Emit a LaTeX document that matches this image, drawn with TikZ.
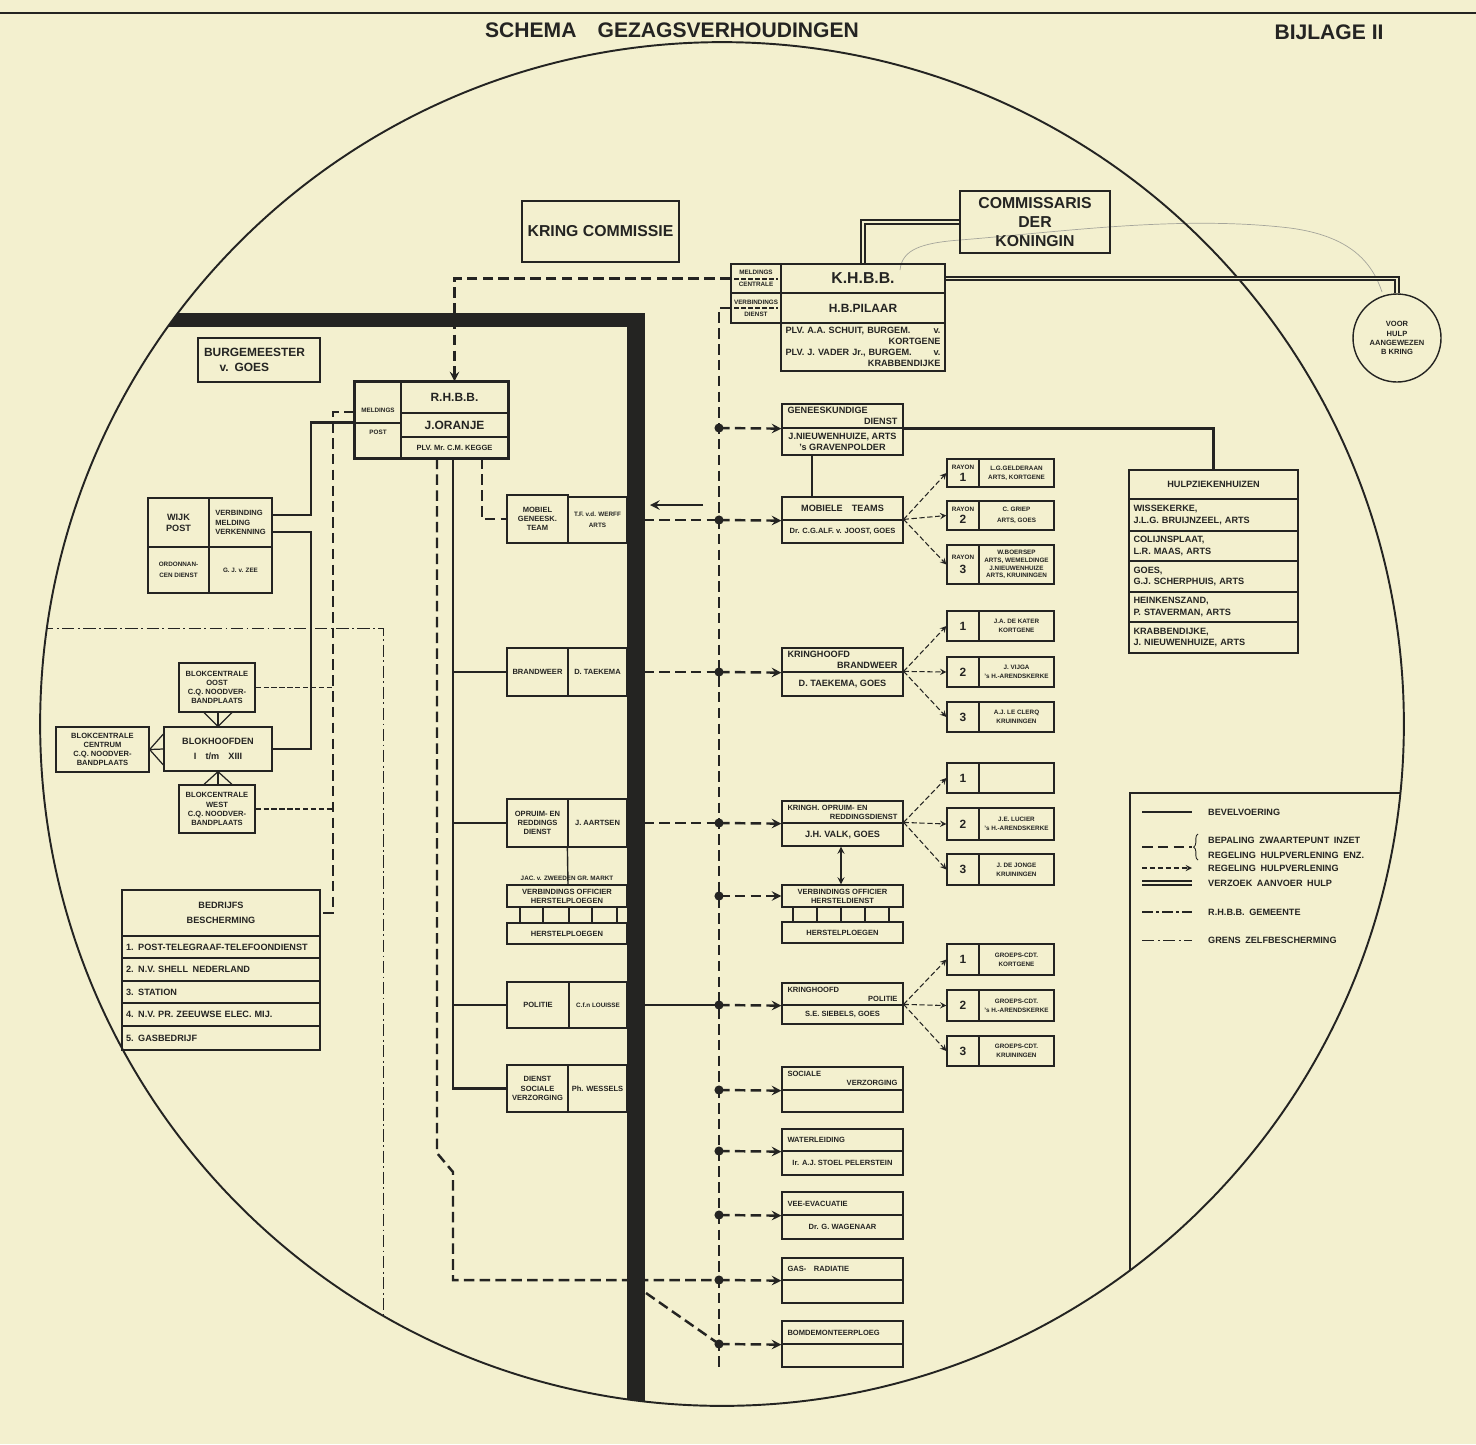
\documentclass[tikz,border=0pt]{standalone}
\usepackage{fontspec}
\setmainfont{Liberation Sans}
\usetikzlibrary{decorations.pathreplacing}

\definecolor{paper}{RGB}{243,240,207}
\definecolor{ink}{RGB}{36,36,34}
\definecolor{pencil}{RGB}{165,165,155}

\newcommand{\pushright}{\hskip 0pt plus 1fill\relax}
\newcommand{\fntxs}{\fontsize{3.6}{4.3}\selectfont\bfseries}
\newcommand{\fnts}{\fontsize{4.3}{5.2}\selectfont\bfseries}
\newcommand{\fntn}{\fontsize{5.2}{6.3}\selectfont\bfseries}
\newcommand{\fntm}{\fontsize{6.8}{8.2}\selectfont\bfseries}
\newcommand{\fntl}{\fontsize{9}{11}\selectfont\bfseries}
\newcommand{\fnttitle}{\fontsize{12}{14}\selectfont\bfseries}

\tikzset{
  cell/.style 2 args={draw=ink, line width=0.7pt, inner sep=0pt,
    minimum width=#1*0.02cm, minimum height=#2*0.02cm, align=center, font=\fnts},
  cellB/.style 2 args={cell={#1}{#2}, line width=1.1pt},
  cmd/.style={draw=ink, line width=1.4pt},
  zw/.style={draw=ink, line width=1.4pt, dash pattern=on 6pt off 3pt},
  hv/.style={draw=ink, line width=0.6pt, dash pattern=on 3pt off 1.5pt},
  aanvoer/.style={draw=ink, line width=0.9pt, double=paper, double distance=1.1pt},
  gem/.style={draw=ink, line width=1.4pt, dash pattern=on 6pt off 2pt on 1.4pt off 2pt},
  grens/.style={draw=ink, line width=0.5pt, dash pattern=on 7pt off 2pt on 1pt off 2pt},
  post/.style={draw=ink, line width=1.6pt},
  legtxt/.style={anchor=west, font=\fntn}
}

\begin{document}
\begin{tikzpicture}[x=0.02cm, y=-0.02cm, >=stealth, every node/.append style={text=ink}]

% paper
\fill[paper] (0,0) rectangle (1476,1444);
\useasboundingbox (0,0) rectangle (1476,1444);
\draw[ink, line width=1.2pt] (0,13) -- (1476,13);

% title
\node[font=\fnttitle] (title) at (672,30) {SCHEMA\quad GEZAGSVERHOUDINGEN};
\node[font=\fnttitle] (bijlage) at (1329,32) {BIJLAGE II};

% pencil stroke
\draw[pencil, line width=0.4pt] (900,270) .. controls (902,250) and (920,243) .. (960,240) .. controls (1060,232) and (1180,215) .. (1290,228) .. controls (1350,236) and (1372,262) .. (1382,292);

% the big circle
\draw[ink, line width=1.1pt] (722,724) circle [radius=13.64cm];

% grens zelfbescherming and legend frame
\begin{scope}
  \clip (722,724) circle [radius=13.64cm];
  \draw[grens] (20,628) -- (383,628) -- (383,1440);
  \draw[ink, line width=0.8pt] (1130,1440) -- (1130,793) -- (1460,793);
\end{scope}

% kring commissie and commissaris
\node[cell={157}{61}, font=\fntl] (kring) at (600.5,231.5) {KRING COMMISSIE};
\node[cell={150}{62}, font=\fntl, line width=1pt] (cdk) at (1035,222) {COMMISSARIS\\DER\\KONINGIN};

% K.H.B.B.
\node[cell={164}{29}, font=\fntl] (khbbA) at (863,278.5) {K.H.B.B.};
\node[cell={164}{30}, font=\fntm] (khbbB) at (863,308) {H.B.PILAAR};
\node[cell={164}{48}, font=\fntn, text width=3.1cm, align=left] (khbbC) at (863,347)
  {PLV. A.A. SCHUIT, BURGEM. \pushright v.\\ \pushright KORTGENE\\PLV. J. VADER Jr., BURGEM. \pushright v.\\ \pushright KRABBENDIJKE};
\node[cell={50}{29}, font=\fntxs] (mcA) at (756,278.5) {MELDINGS\\[2.5pt]CENTRALE};
\node[cell={50}{30}, font=\fntxs] (mcB) at (756,308) {VERBINDINGS\\[2.5pt]DIENST};
\draw[zw, line width=0.9pt, dash pattern=on 3pt off 1pt] (734,279) -- (778,279);
\draw[zw, line width=0.9pt, dash pattern=on 3pt off 1pt] (734,308) -- (778,308);
\node[draw=ink, circle, line width=0.8pt, minimum size=88*0.02cm, inner sep=0pt, align=center, font=\fnts] (hulp) at (1397,338) {VOOR\\HULP\\AANGEWEZEN\\B KRING};

% R.H.B.B.
\node[cell={107}{31}, font=\fntm] (rhA) at (454.5,397.5) {R.H.B.B.};
\node[cell={107}{24}, font=\fntm] (rhB) at (454.5,425) {J.ORANJE};
\node[cell={107}{21}] (rhC) at (454.5,447.5) {PLV. Mr.\ C.M. KEGGE};
\node[cell={46}{41}] (rhLA) at (378,402.5) {};
\node[cell={46}{35}] (rhLB) at (378,440.5) {};
\node[font=\fntxs] (rhm) at (378,410) {MELDINGS};
\node[font=\fntxs] (rhp) at (378,432) {POST};
\draw[ink, line width=1.2pt] (rhLA.north west) rectangle (rhC.south east);
\node[cell={122}{44}, font=\fntm, text width=2.2cm, align=left] (burg) at (259,360) {BURGEMEESTER\\ \hspace{1.3em}v. GOES};

% wijk post
\node[cell={61}{49}, font=\fntn] (wpA) at (178.5,522.5) {WIJK\\POST};
\node[cell={63}{49}, align=left] (wpB) at (240.5,522.5) {VERBINDING\\MELDING\\VERKENNING};
\node[cell={61}{46}, font=\fntxs] (wpC) at (178.5,570) {ORDONNAN-\\[2pt]CEN DIENST};
\node[cell={63}{46}, font=\fntxs] (wpD) at (240.5,570) {G. J. v. ZEE};

% blokken
\node[cell={76}{49}] (oost) at (217,687.5) {BLOKCENTRALE\\OOST\\C.Q. NOODVER-\\BANDPLAATS};
\node[cell={108}{44}, font=\fntn] (bh) at (218,749) {BLOKHOOFDEN\\[2pt]I\quad t/m\quad XIII};
\node[cell={93}{45}] (centrum) at (102.5,749.5) {BLOKCENTRALE\\CENTRUM\\C.Q. NOODVER-\\BANDPLAATS};
\node[cell={76}{48}] (west) at (217,809) {BLOKCENTRALE\\WEST\\C.Q. NOODVER-\\BANDPLAATS};

% bedrijfsbescherming
\node[cell={198}{46}, font=\fntn] (bbA) at (221,913) {BEDRIJFS\\[2pt]BESCHERMING};
\node[cell={198}{22}, font=\fntn, text width=3.8cm, align=left] (bb1) at (221,947) {1. POST-TELEGRAAF-TELEFOONDIENST};
\node[cell={198}{23}, font=\fntn, text width=3.8cm, align=left] (bb2) at (221,969.5) {2. N.V. SHELL\enspace NEDERLAND};
\node[cell={198}{22}, font=\fntn, text width=3.8cm, align=left] (bb3) at (221,992) {3. STATION};
\node[cell={198}{23}, font=\fntn, text width=3.8cm, align=left] (bb4) at (221,1014.5) {4. N.V. PR. ZEEUWSE ELEC. MIJ.};
\node[cell={198}{24}, font=\fntn, text width=3.8cm, align=left] (bb5) at (221,1038) {5. GASBEDRIJF};

% gemeentelijke diensten
\node[cellB={61}{48}] (mgA) at (537.5,519) {MOBIEL\\GENEESK.\\TEAM};
\node[cell={59}{46}, font=\fntxs] (mgB) at (597.5,520) {T.F. v.d. WERFF\\[2pt]ARTS};
\node[cellB={61}{48}] (bwA) at (537.5,672) {BRANDWEER};
\node[cell={59}{48}] (bwB) at (597.5,672) {D. TAEKEMA};
\node[cellB={61}{48}] (orA) at (537.5,823) {OPRUIM- EN\\REDDINGS\\DIENST};
\node[cell={59}{48}] (orB) at (597.5,823) {J. AARTSEN};
\node[font=\fntxs] (jac) at (567,878) {JAC. v. ZWEEDEN GR. MARKT};
\node[cell={120}{22}] (vo) at (567,896) {VERBINDINGS OFFICIER\\HERSTELPLOEGEN};
\node[cell={120}{21}] (hp) at (567,933.5) {HERSTELPLOEGEN};
\node[cellB={62}{46}] (poA) at (538,1005) {POLITIE};
\node[cell={58}{46}, font=\fntxs] (poB) at (598,1005) {C.f.n LOUISSE};
\node[cellB={61}{47}] (dsA) at (537.5,1088.5) {DIENST\\SOCIALE\\VERZORGING};
\node[cell={59}{47}] (dsB) at (597.5,1088.5) {Ph. WESSELS};

% kringdiensten
\node[cell={121}{24}, font=\fntn, text width=2.2cm, align=left] (gdA) at (842.5,416) {GENEESKUNDIGE\\ \pushright DIENST};
\node[cell={121}{27}, font=\fntn] (gdB) at (842.5,441.5) {J.NIEUWENHUIZE, ARTS\\'s GRAVENPOLDER};
\node[cell={121}{23}, font=\fntn] (mtA) at (842.5,508.5) {MOBIELE\quad TEAMS};
\node[cell={121}{23}] (mtB) at (842.5,531.5) {Dr. C.G.ALF. v. JOOST, GOES};
\node[cell={121}{24}, font=\fntn, text width=2.2cm, align=left] (kbA) at (842.5,660) {KRINGHOOFD\\ \pushright BRANDWEER};
\node[cell={121}{24}, font=\fntn] (kbB) at (842.5,684) {D. TAEKEMA, GOES};
\node[cell={121}{22}, text width=2.2cm, align=left] (koA) at (842.5,812) {KRINGH. OPRUIM- EN\\ \pushright REDDINGSDIENST};
\node[cell={121}{23}, font=\fntn] (koB) at (842.5,834.5) {J.H. VALK, GOES};
\node[cell={121}{22}] (vh) at (842.5,896) {VERBINDINGS OFFICIER\\HERSTELDIENST};
\node[cell={121}{21}] (hp2) at (842.5,932.5) {HERSTELPLOEGEN};
\node[cell={121}{22}, text width=2.2cm, align=left] (kpA) at (842.5,994) {KRINGHOOFD\\ \pushright POLITIE};
\node[cell={121}{19}] (kpB) at (842.5,1014.5) {S.E. SIEBELS, GOES};
\node[cell={121}{23}, text width=2.2cm, align=left] (svA) at (842.5,1078.5) {SOCIALE\\ \pushright VERZORGING};
\node[cell={121}{22}] (svB) at (842.5,1101) {};
\node[cell={121}{22}, text width=2.2cm, align=left] (wlA) at (842.5,1140) {WATERLEIDING};
\node[cell={121}{24}] (wlB) at (842.5,1163) {Ir. A.J. STOEL PELERSTEIN};
\node[cell={121}{23}, text width=2.2cm, align=left] (veA) at (842.5,1203.5) {VEE-EVACUATIE};
\node[cell={121}{24}] (veB) at (842.5,1227) {Dr. G. WAGENAAR};
\node[cell={121}{22}, text width=2.2cm, align=left] (gsA) at (842.5,1269) {GAS-\quad RADIATIE};
\node[cell={121}{23}] (gsB) at (842.5,1291.5) {};
\node[cell={121}{23}, text width=2.2cm, align=left] (bmA) at (842.5,1332.5) {BOMDEMONTEERPLOEG};
\node[cell={121}{23}] (bmB) at (842.5,1355.5) {};

% rayons and ploegen
\node[cell={32}{28}, font=\fntxs] (r1L) at (963,473) {RAYON\\[1pt]{\fntm 1}};
\node[cell={75}{28}, font=\fntxs] (r1R) at (1016.5,473) {L.G.GELDERAAN\\[1pt]ARTS, KORTGENE};
\node[cell={32}{29}, font=\fntxs] (r2L) at (963,515.5) {RAYON\\[1pt]{\fntm 2}};
\node[cell={75}{29}, font=\fntxs] (r2R) at (1016.5,515.5) {C. GRIEP\\[2pt]ARTS, GOES};
\node[cell={32}{39}, font=\fntxs] (r3L) at (963,564.5) {RAYON\\[2pt]{\fntm 3}};
\node[cell={75}{39}, font=\fntxs] (r3R) at (1016.5,564.5) {W.BOERSEP\\ARTS, WEMELDINGE\\J.NIEUWENHUIZE\\ARTS, KRUININGEN};
\node[cell={32}{30}, font=\fntm] (b1L) at (963,626) {1};
\node[cell={75}{30}, font=\fntxs] (b1R) at (1016.5,626) {J.A. DE KATER\\[1pt]KORTGENE};
\node[cell={32}{30}, font=\fntm] (b2L) at (963,672) {2};
\node[cell={75}{30}, font=\fntxs] (b2R) at (1016.5,672) {J. VIJGA\\[1pt]'s H.-ARENDSKERKE};
\node[cell={32}{30}, font=\fntm] (b3L) at (963,717) {3};
\node[cell={75}{30}, font=\fntxs] (b3R) at (1016.5,717) {A.J. LE CLERQ\\[1pt]KRUININGEN};
\node[cell={32}{30}, font=\fntm] (o1L) at (963,778) {1};
\node[cell={75}{30}] (o1R) at (1016.5,778) {};
\node[cell={32}{32}, font=\fntm] (o2L) at (963,824) {2};
\node[cell={75}{32}, font=\fntxs] (o2R) at (1016.5,824) {J.E. LUCIER\\[1pt]'s H.-ARENDSKERKE};
\node[cell={32}{31}, font=\fntm] (o3L) at (963,869.5) {3};
\node[cell={75}{31}, font=\fntxs] (o3R) at (1016.5,869.5) {J. DE JONGE\\[1pt]KRUININGEN};
\node[cell={32}{31}, font=\fntm] (p1L) at (963,959.5) {1};
\node[cell={75}{31}, font=\fntxs] (p1R) at (1016.5,959.5) {GROEPS-CDT.\\[1pt]KORTGENE};
\node[cell={32}{31}, font=\fntm] (p2L) at (963,1005.5) {2};
\node[cell={75}{31}, font=\fntxs] (p2R) at (1016.5,1005.5) {GROEPS-CDT.\\[1pt]'s H.-ARENDSKERKE};
\node[cell={32}{30}, font=\fntm] (p3L) at (963,1051) {3};
\node[cell={75}{30}, font=\fntxs] (p3R) at (1016.5,1051) {GROEPS-CDT.\\[1pt]KRUININGEN};

% hulpziekenhuizen
\node[cell={169}{29}, font=\fntn] (hzA) at (1213.5,484.5) {HULPZIEKENHUIZEN};
\node[cell={169}{32}, font=\fntn, text width=3.2cm, align=left] (hz1) at (1213.5,515) {WISSEKERKE,\\J.L.G. BRUIJNZEEL, ARTS};
\node[cell={169}{30}, font=\fntn, text width=3.2cm, align=left] (hz2) at (1213.5,546) {COLIJNSPLAAT,\\L.R. MAAS, ARTS};
\node[cell={169}{31}, font=\fntn, text width=3.2cm, align=left] (hz3) at (1213.5,576.5) {GOES,\\G.J. SCHERPHUIS, ARTS};
\node[cell={169}{30}, font=\fntn, text width=3.2cm, align=left] (hz4) at (1213.5,607) {HEINKENSZAND,\\P. STAVERMAN, ARTS};
\node[cell={169}{31}, font=\fntn, text width=3.2cm, align=left] (hz5) at (1213.5,637.5) {KRABBENDIJKE,\\J. NIEUWENHUIZE, ARTS};

% junctions on the kring line
\coordinate (j-gd) at (719,428);
\coordinate (j-mt) at (719,520);
\coordinate (j-kb) at (719,672);
\coordinate (j-ko) at (719,823);
\coordinate (j-vh) at (719,896);
\coordinate (j-kp) at (719,1005);
\coordinate (j-sv) at (719,1090);
\coordinate (j-wl) at (719,1151);
\coordinate (j-ve) at (719,1215);
\coordinate (j-gs) at (719,1280);
\coordinate (j-bm) at (719,1344);
\coordinate (j-end) at (719,1370);

% verzoek aanvoer hulp
\draw[aanvoer] (cdk.west) -| (khbbA.north -| 863,0);
\draw[aanvoer] (khbbA.east) -| (hulp.north);

% kring to gemeente
\draw[zw, ->] (mcA.west) -| (rhA.north);
\draw[zw] (mcB.west) -| (j-end);
\foreach \j/\b in {gd/gdA.south west, mt/mtA.south west, kb/kbA.south west, ko/koA.south west, vh/vh.west,
  kp/kpA.south west, sv/svA.south west, wl/wlA.south west, ve/veA.south west, gs/gsA.south west, bm/bmA.south west}
  \draw[zw, ->] (j-\j) -- (\b);
\draw[zw] (mgB.east) -- (j-mt);
\draw[zw] (bwB.east) -- (j-kb);
\draw[zw] (orB.east) -- (j-ko);
\draw[cmd] (poB.east) -- (j-kp);
\draw[zw] (646,1293) -- (j-bm);

% bevelvoering r.h.b.b.
\draw[cmd] (453,0 |- rhC.south) |- (dsA.west);
\foreach \b in {bwA, orA, poA}
  \draw[cmd] (453,0 |- \b.west) -- (\b.west);
\draw[zw] (437,0 |- rhC.south) -- (437,1153) -- (453,1172) -- (453,1280) -- (j-gs);
\draw[zw] (482,0 |- rhC.south) |- (mgA.west);
\draw[ink, line width=0.8pt] (orB.south west) -- (vo.north -| 568,0);
\foreach \px in {520,543,569,592,617}
  \draw[post] (vo.south -| \px,0) -- (hp.north -| \px,0);

% wijk post and blokken
\draw[cmd] (wpB.east |- 0,515) -| (311,0 |- rhLB.north) -- (rhLB.north west);
\draw[cmd] (wpB.east |- 0,532) -| (311,0 |- bh.east) -- (bh.east);
\draw[zw] (rhLA.west |- 0,412) -| (333,0 |- bbA.east) -- (bbA.east);
\draw[hv, line width=0.8pt] (oost.east) -- (333,0 |- oost.east);
\draw[hv, line width=0.8pt] (west.east) -- (333,0 |- west.east);
\foreach \fx in {204,218,232} {
  \draw[ink, line width=0.7pt] (bh.north) -- (oost.south -| \fx,0);
  \draw[ink, line width=0.7pt] (bh.south) -- (west.north -| \fx,0);
}
\foreach \fy in {734,749,765}
  \draw[ink, line width=0.7pt] (centrum.east) -- (bh.west |- 0,\fy);

% geneeskundige dienst
\draw[cmd] (812,0 |- gdB.south) -- (812,0 |- mtA.north);
\draw[cmd] (gdA.south east) -| (hzA.north);

% regeling hulpverlening
\foreach \s/\t in {mtB/r1L, mtB/r2L, mtB/r3L, kbB/b1L, kbB/b2L, kbB/b3L,
  koB/o1L, koB/o2L, koB/o3L, kpB/p1L, kpB/p2L, kpB/p3L}
  \draw[hv, ->] (\s.north east) -- (\t.west);
\draw[ink, line width=0.8pt, <->] (koB.south -| 841,0) -- (vh.north -| 841,0);
\foreach \px in {793,817,841,865,889}
  \draw[post] (vh.south -| \px,0) -- (hp2.north -| \px,0);

% arrow to the mobiel team
\coordinate (pijl-a) at (703,505);
\coordinate (pijl-b) at (650,505);
\draw[cmd, ->] (pijl-a) -- (pijl-b);

% thick bar
\begin{scope}
  \clip (722,724) circle [radius=13.64cm];
  \fill[ink] (150,313) rectangle (645,327);
  \fill[ink] (627,313) rectangle (645,1430);
\end{scope}

% junction dots
\foreach \j in {gd,mt,kb,ko,vh,kp,sv,wl,ve,gs,bm}
  \fill[ink] (j-\j) circle (2.6pt);

% legend
\draw[cmd] (1142,812) -- (1192,812);
\node[legtxt] (lg1) at (1202,812) {BEVELVOERING};
\draw[zw] (1142,847) -- (1192,847);
\draw[ink, line width=0.5pt, decorate, decoration={brace, amplitude=2.5pt}] (1198,860) -- (1198,834);
\node[legtxt] (lg2) at (1202,840) {BEPALING\enspace ZWAARTEPUNT\enspace INZET};
\node[legtxt] (lg3) at (1202,855) {REGELING\enspace HULPVERLENING\enspace ENZ.};
\draw[hv, ->] (1142,868) -- (1192,868);
\node[legtxt] (lg4) at (1202,868) {REGELING\enspace HULPVERLENING};
\draw[aanvoer] (1142,883) -- (1192,883);
\node[legtxt] (lg5) at (1202,883) {VERZOEK\enspace AANVOER\enspace HULP};
\draw[gem] (1142,912) -- (1192,912);
\node[legtxt] (lg6) at (1202,912) {R.H.B.B.\enspace GEMEENTE};
\draw[grens] (1142,940) -- (1192,940);
\node[legtxt] (lg7) at (1202,940) {GRENS\enspace ZELFBESCHERMING};
\end{tikzpicture}
\end{document}
